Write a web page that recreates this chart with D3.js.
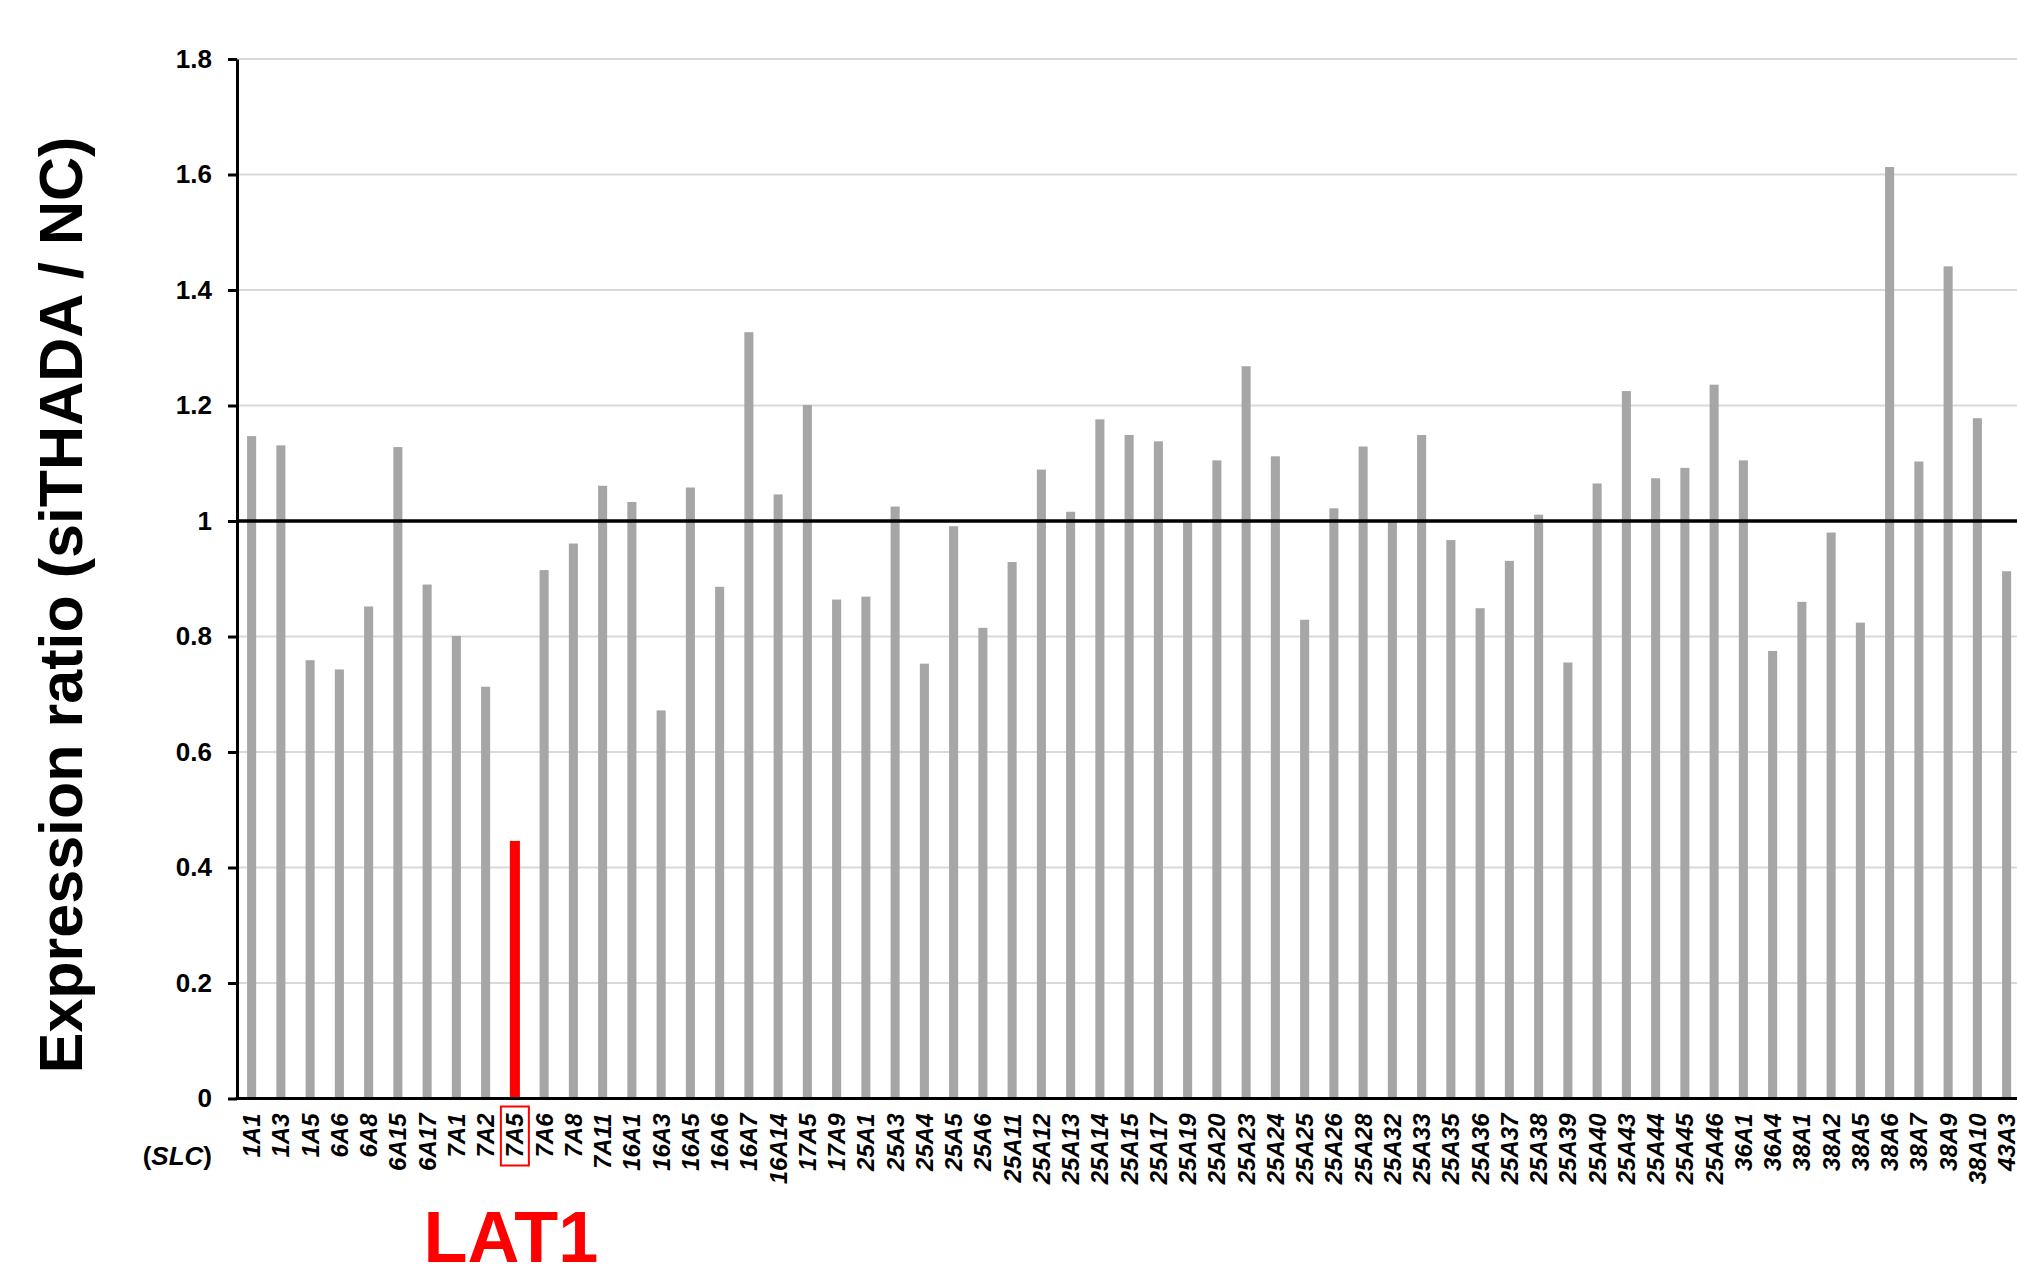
<!DOCTYPE html>
<html>
<head>
<meta charset="utf-8">
<script src="https://cdn.jsdelivr.net/npm/d3@7"></script>
<style>
	body { margin: 0; background: #fff; }
	svg { display: block; font-family: Arial, "Liberation Sans", sans-serif; }
</style>
</head>
<body>
<svg id="chart" width="2017" height="1270"></svg>
<script>
// SLC transporter genes (x categories)
const genes = [
	"1A1", "1A3", "1A5", "6A6", "6A8", "6A15", "6A17", "7A1", "7A2", "7A5",
	"7A6", "7A8", "7A11", "16A1", "16A3", "16A5", "16A6", "16A7", "16A14", "17A5",
	"17A9", "25A1", "25A3", "25A4", "25A5", "25A6", "25A11", "25A12", "25A13", "25A14",
	"25A15", "25A17", "25A19", "25A20", "25A23", "25A24", "25A25", "25A26", "25A28", "25A32",
	"25A33", "25A35", "25A36", "25A37", "25A38", "25A39", "25A40", "25A43", "25A44", "25A45",
	"25A46", "36A1", "36A4", "38A1", "38A2", "38A5", "38A6", "38A7", "38A9", "38A10",
	"43A3",
]

// expression ratio siTHADA / NC
const ratios = [
	1.147, 1.131, 0.759, 0.743, 0.852, 1.128, 0.890, 0.801, 0.713, 0.446,
	0.915, 0.961, 1.061, 1.033, 0.672, 1.058, 0.886, 1.327, 1.046, 1.201,
	0.864, 0.869, 1.025, 0.753, 0.991, 0.815, 0.929, 1.089, 1.016, 1.176,
	1.149, 1.138, 1.000, 1.105, 1.268, 1.112, 0.829, 1.022, 1.129, 1.000,
	1.149, 0.967, 0.849, 0.931, 1.011, 0.755, 1.065, 1.225, 1.074, 1.092,
	1.236, 1.105, 0.775, 0.860, 0.980, 0.824, 1.613, 1.103, 1.441, 1.178,
	0.913,
]

const yTicks = [0, 0.2, 0.4, 0.6, 0.8, 1, 1.2, 1.4, 1.6, 1.8]
const highlight = "7A5"
const highlightName = "LAT1"

const data = genes.map((g, i) => ({ gene: g, value: ratios[i] }))

const width = 2017
const plot = { left: 237, top: 59, bottom: 1098.5, step: 29.25 }

const svg = d3.select("#chart")

const x = d3.scaleBand()
	.domain(genes)
	.range([plot.left, plot.left + genes.length * plot.step])
	.paddingInner(0.69)
	.paddingOuter(0.345)

const y = d3.scaleLinear()
	.domain([0, 1.8])
	.range([plot.bottom, plot.top])

// Gridlines
svg.append("g")
	.attr("class", "grid")
	.selectAll("line")
	.data(yTicks.filter(d => d !== 0 && d !== 1))
	.join("line")
	.attr("x1", plot.left)
	.attr("x2", width)
	.attr("y1", d => y(d))
	.attr("y2", d => y(d))
	.style("stroke", "#d9d9d9")
	.style("stroke-width", 2)

// Bars
svg.append("g")
	.attr("class", "bars")
	.selectAll("rect")
	.data(data)
	.join("rect")
	.attr("x", d => x(d.gene) + (d.gene === highlight ? -0.5 : 0))
	.attr("width", d => x.bandwidth() + (d.gene === highlight ? 1 : 0))
	.attr("y", d => y(d.value))
	.attr("height", d => y(0) - y(d.value))
	.attr("fill", d => d.gene === highlight ? "#ff0000" : "#a6a6a6")

// Reference line at ratio = 1
svg.append("line")
	.attr("x1", plot.left)
	.attr("x2", width)
	.attr("y1", y(1))
	.attr("y2", y(1))
	.style("stroke", "#000")
	.style("stroke-width", 3.5)

// Y axis
const yAxis = svg.append("g")
	.attr("transform", `translate(${plot.left}, 0)`)
	.call(d3.axisLeft(y)
		.tickValues(yTicks)
		.tickFormat(d3.format("~g"))
		.tickSize(9)
		.tickSizeOuter(0)
		.tickPadding(16))
yAxis.select(".domain")
	.style("stroke", "#000")
	.style("stroke-width", 3)
yAxis.selectAll(".tick line")
	.style("stroke", "#000")
	.style("stroke-width", 3)
yAxis.selectAll(".tick text")
	.style("font-family", "Arial, 'Liberation Sans', sans-serif")
	.style("font-size", "26px")
	.style("font-weight", "bold")
	.attr("fill", "#000")

// X axis baseline
svg.append("line")
	.attr("x1", plot.left - 1.5)
	.attr("x2", width)
	.attr("y1", y(0))
	.attr("y2", y(0))
	.style("stroke", "#000")
	.style("stroke-width", 3)

// X axis labels, rotated
const xAxis = svg.append("g")
	.attr("transform", `translate(0, ${y(0)})`)
	.call(d3.axisBottom(x).tickSize(0))
xAxis.select(".domain").remove()
xAxis.selectAll(".tick text")
	.attr("transform", "rotate(-90)")
	.attr("x", -15)
	.attr("y", 0)
	.attr("dy", "0.35em")
	.attr("text-anchor", "end")
	.attr("fill", "#000")
	.style("font-family", "Arial, 'Liberation Sans', sans-serif")
	.style("font-size", "24px")
	.style("font-weight", "bold")
	.style("font-style", "italic")

// Box round the highlighted label
const hx = x(highlight) + x.bandwidth() / 2
svg.append("rect")
	.attr("x", hx - 14)
	.attr("y", y(0) + 8)
	.attr("width", 28)
	.attr("height", 59)
	.attr("fill", "none")
	.style("stroke", "#ff0000")
	.style("stroke-width", 2)

svg.append("text")
	.attr("x", hx - 4)
	.attr("y", 1262)
	.attr("text-anchor", "middle")
	.attr("fill", "#ff0000")
	.style("font-size", "72px")
	.style("font-weight", "bold")
	.text(highlightName)

// (SLC) label
const slc = svg.append("text")
	.attr("x", 212)
	.attr("y", 1165)
	.attr("text-anchor", "end")
	.style("font-size", "26px")
	.style("font-weight", "bold")
slc.append("tspan").text("(")
slc.append("tspan").style("font-style", "italic").text("SLC")
slc.append("tspan").text(")")

// Y axis title
svg.append("text")
	.attr("transform", "translate(82, 605) rotate(-90)")
	.attr("text-anchor", "middle")
	.style("font-size", "61px")
	.style("font-weight", "bold")
	.text("Expression ratio (siTHADA / NC)")
</script>
</body>
</html>
